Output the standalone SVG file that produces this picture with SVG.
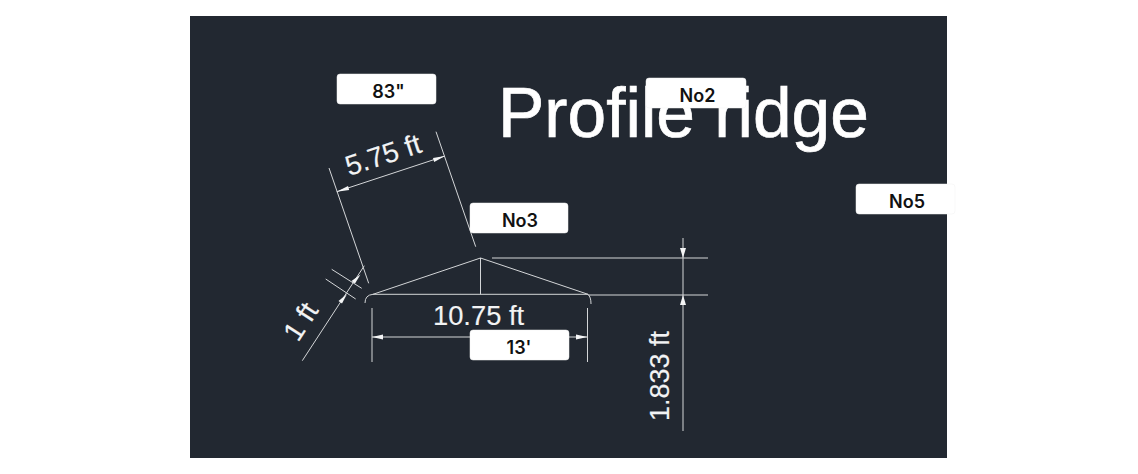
<svg xmlns="http://www.w3.org/2000/svg" width="1138" height="474" viewBox="0 0 1138 474">
<defs>
<style>
.l{stroke:#d4d6d8;stroke-width:1;fill:none}
.a{fill:#f4f5f6;stroke:none}
.t{font-family:"Liberation Sans",Arial,sans-serif;fill:#f2f3f4;stroke:#f2f3f4;stroke-width:.15}
.h{font-family:"Liberation Sans",Arial,sans-serif;fill:#fff;stroke:#fff;stroke-width:.7}
.b{fill:#fff;stroke:#f0f0f0;stroke-width:.5}
.n{font-family:Inter,"Liberation Sans",Arial,sans-serif;font-size:18px;font-weight:600;fill:#111;text-anchor:middle}
.m{font-size:18px}
</style>
</defs>
<rect width="1138" height="474" fill="#fff"/>
<rect x="190" y="16" width="757" height="442" fill="#222831"/>
<g id="connectors">
<path class="l" d="M329 168L368.7 283.3M436 131.7L475.7 246.7M336.7 191.7L445 156"/>
<path class="l" d="M302.3 360.7L364.3 265.7M331.7 269.3L361.7 288.3M325.7 279L355.7 299"/>
<path class="l" d="M365 303Q365 295 373 294.3L480.5 258L588 294.3Q591 297 591 304M373 294.3H588M480.5 258V294.3"/>
<path class="l" d="M492 258H708M588 295H708M683 238V431"/>
<path class="l" d="M372 308V362M587.5 308V362M372 337H587.5"/>
<polygon class="a" points="336.7,191.7 348,186 349.2,190"/>
<polygon class="a" points="445,156 433,158 434.2,162"/>
<polygon class="a" points="360.5,274.5 351.5,281 355,283.5"/>
<polygon class="a" points="347,294 338.5,301 342,303.5"/>
<polygon class="a" points="683,258 680,248 686,248"/>
<polygon class="a" points="683,295 680,305 686,305"/>
<polygon class="a" points="372,337 383,334.5 383,339.5"/>
<polygon class="a" points="587.5,337 576,334.5 576,339.5"/>
</g>
<g id="dim-labels">
<text class="h" font-size="69.5" x="498" y="136.500">Profile ridge</text>
<text class="t" font-size="28" transform="translate(349 176) rotate(-18)">5.75 ft</text>
<text class="t" font-size="28" transform="translate(298 343) rotate(-57)">1 ft</text>
<text class="t" font-size="27.300" x="433" y="325">10.75 ft</text>
<text class="t" font-size="27" transform="translate(669 421) rotate(-90)">1.833 ft</text>
</g>
<g id="label-83"><rect class="b" x="337" y="74" width="99" height="30" rx="3"/><text class="n m" x="388.500" y="98">83"</text></g>
<g id="label-no2"><rect class="b" x="646" y="78" width="100" height="30" rx="3"/><text class="n" x="697.500" y="101.500">No2</text></g>
<g id="label-no3"><rect class="b" x="470" y="203" width="98" height="30" rx="3"/><text class="n" x="520" y="226.500">No3</text></g>
<g id="label-no5"><rect class="b" x="856" y="184" width="99" height="30" rx="3"/><text class="n" x="907" y="207.500">No5</text></g>
<g id="label-13"><rect class="b" x="470" y="330" width="99" height="30" rx="3"/><text class="n m" x="519" y="354">13'</text></g>
</svg>
